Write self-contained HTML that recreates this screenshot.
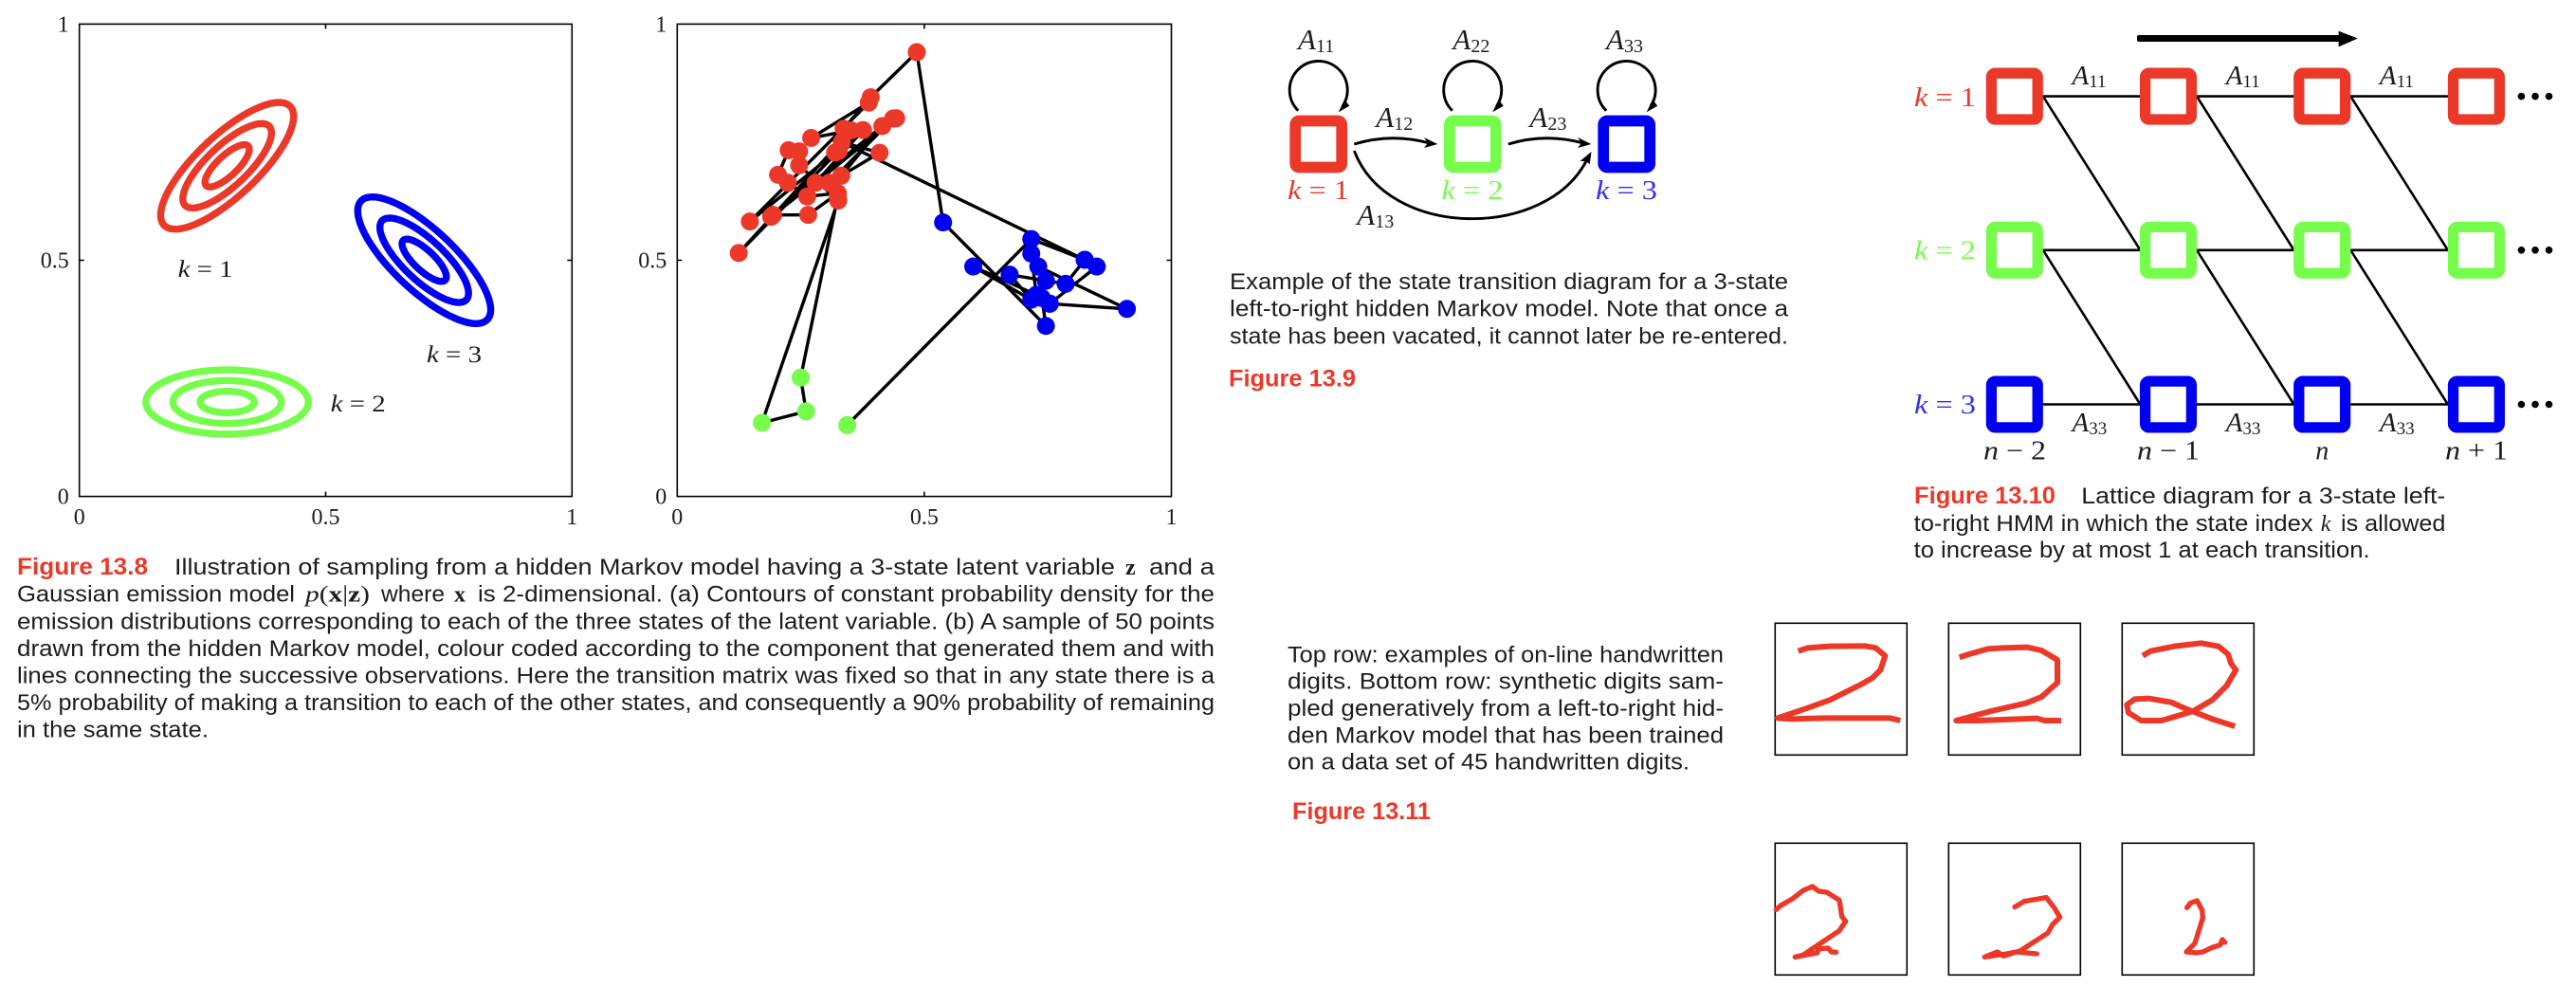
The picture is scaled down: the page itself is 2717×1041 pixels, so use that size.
<!DOCTYPE html>
<html lang="en">
<head>
<meta charset="utf-8">
<title>Hidden Markov model figures 13.8 to 13.11</title>
<style>
html,body{margin:0;padding:0;background:#fff;}
svg{display:block;}
text{font-family:"Liberation Sans",sans-serif;fill:#1c1c1c;font-size:24px;}
.m,.m tspan{font-family:"Liberation Serif",serif;}
.fig{font-weight:bold;fill:#ec3829;font-size:25px;}
.i{font-style:italic;}
</style>
</head>
<body>
<svg id="page" xmlns="http://www.w3.org/2000/svg" width="2717" height="1041" viewBox="0 0 2717 1041">
<rect width="2717" height="1041" fill="#fff"/>
<g id="plots"></g>

<!-- Figure 13.8 caption -->
<g>
<text class="fig" x="18" y="606" textLength="138" lengthAdjust="spacingAndGlyphs">Figure 13.8</text>
<text x="184" y="606" textLength="992" lengthAdjust="spacingAndGlyphs">Illustration of sampling from a hidden Markov model having a 3-state latent variable</text>
<text class="m" x="1187" y="606" font-weight="bold">z</text>
<text x="1212" y="606" textLength="69" lengthAdjust="spacingAndGlyphs">and a</text>
<text x="18" y="634.7" textLength="293" lengthAdjust="spacingAndGlyphs">Gaussian emission model</text>
<text class="m" x="322" y="634.7" textLength="68" lengthAdjust="spacingAndGlyphs"><tspan font-style="italic">p</tspan>(<tspan font-weight="bold">x</tspan>|<tspan font-weight="bold">z</tspan>)</text>
<text x="402" y="634.7" textLength="67" lengthAdjust="spacingAndGlyphs">where</text>
<text class="m" x="479" y="634.7" font-weight="bold">x</text>
<text x="504" y="634.7" textLength="777" lengthAdjust="spacingAndGlyphs">is 2-dimensional. (a) Contours of constant probability density for the</text>
<text x="18" y="663.3" textLength="1263" lengthAdjust="spacingAndGlyphs">emission distributions corresponding to each of the three states of the latent variable. (b) A sample of 50 points</text>
<text x="18" y="691.8" textLength="1263" lengthAdjust="spacingAndGlyphs">drawn from the hidden Markov model, colour coded according to the component that generated them and with</text>
<text x="18" y="720.3" textLength="1263" lengthAdjust="spacingAndGlyphs">lines connecting the successive observations. Here the transition matrix was fixed so that in any state there is a</text>
<text x="18" y="749" textLength="1263" lengthAdjust="spacingAndGlyphs">5% probability of making a transition to each of the other states, and consequently a 90% probability of remaining</text>
<text x="18" y="777.5" textLength="202" lengthAdjust="spacingAndGlyphs">in the same state.</text>
</g>

<!-- Figure 13.9 diagram -->
<g>
<g fill="none" stroke="#000" stroke-width="2.9">
<path d="M1369.3 116.7 A30.5 30.5 0 1 1 1416 112"/>
<path d="M1531.8 116.7 A30.5 30.5 0 1 1 1578.5 112"/>
<path d="M1694.2 116.7 A30.5 30.5 0 1 1 1740.9 112"/>
<path d="M1428.3 152 Q1468 140 1508 151"/>
<path d="M1590.9 152 Q1630 140 1670 151"/>
<path d="M1428.3 159 C1464 253 1632 253 1674 168"/>
</g>
<g fill="#000">
<polygon points="1411.7,118.3 1418.3,105 1423.3,111.7"/>
<polygon points="1574.2,118.3 1580.8,105 1585.8,111.7"/>
<polygon points="1736.6,118.3 1743.2,105 1748.2,111.7"/>
<polygon points="1516.3,152 1502,145 1506,151 1502,156"/>
<polygon points="1678.5,152 1664,145 1668,151 1664,156"/>
<polygon points="1678.5,160 1666.5,170 1672,170 1676.8,173"/>
</g>
<g fill="#fff" stroke-width="11.7" stroke-linejoin="round">
<rect x="1366.2" y="127.5" width="49" height="49" rx="4" stroke="#ec3829"/>
<rect x="1528.8" y="127.5" width="49" height="49" rx="4" stroke="#76fd4c"/>
<rect x="1691.2" y="127.5" width="49" height="49" rx="4" stroke="#0000f0"/>
</g>
<text class="m" x="1358" y="210" font-size="28" textLength="65" lengthAdjust="spacingAndGlyphs" style="fill:#ec3829;font-size:28px"><tspan font-style="italic">k</tspan> = 1</text>
<text class="m" x="1520.5" y="210" textLength="65" lengthAdjust="spacingAndGlyphs" style="fill:#76fd4c;font-size:28px"><tspan font-style="italic">k</tspan> = 2</text>
<text class="m" x="1683" y="210" textLength="65" lengthAdjust="spacingAndGlyphs" style="fill:#3030f0;font-size:28px"><tspan font-style="italic">k</tspan> = 3</text>
<text class="m" x="1369" y="52" style="font-size:31px"><tspan font-style="italic">A</tspan><tspan dy="3" style="font-size:20px">11</tspan></text>
<text class="m" x="1532.4" y="52" style="font-size:31px"><tspan font-style="italic">A</tspan><tspan dy="3" style="font-size:20px">22</tspan></text>
<text class="m" x="1694" y="52" style="font-size:31px"><tspan font-style="italic">A</tspan><tspan dy="3" style="font-size:20px">33</tspan></text>
<text class="m" x="1451.3" y="134" style="font-size:31px"><tspan font-style="italic">A</tspan><tspan dy="3" style="font-size:20px">12</tspan></text>
<text class="m" x="1613.4" y="134" style="font-size:31px"><tspan font-style="italic">A</tspan><tspan dy="3" style="font-size:20px">23</tspan></text>
<text class="m" x="1431.3" y="237" style="font-size:31px"><tspan font-style="italic">A</tspan><tspan dy="3" style="font-size:20px">13</tspan></text>
</g>
<g>
<text x="1297" y="305" textLength="589" lengthAdjust="spacingAndGlyphs">Example of the state transition diagram for a 3-state</text>
<text x="1297" y="333.5" textLength="589" lengthAdjust="spacingAndGlyphs">left-to-right hidden Markov model.  Note that once a</text>
<text x="1297" y="362.3" textLength="589" lengthAdjust="spacingAndGlyphs">state has been vacated, it cannot later be re-entered.</text>
<text class="fig" x="1296" y="407.3" textLength="134" lengthAdjust="spacingAndGlyphs">Figure 13.9</text>
</g>

<!-- Figure 13.10 lattice -->
<g id="lattice">
<g stroke="#000" stroke-width="2.6" fill="none">
<path d="M2124.8 101.6H2611.9M2124.8 263.8H2611.9M2124.8 426.5H2611.9"/>
<path d="M2154.9 101.6L2257.4 263.8M2317 101.6L2419.5 263.8M2479.3 101.6L2581.8 263.8M2154.9 263.8L2257.4 426.5M2317 263.8L2419.5 426.5M2479.3 263.8L2581.8 426.5"/>
</g>
<g fill="#fff" stroke-width="11.3" stroke-linejoin="round">
<g stroke="#ec3829">
<rect x="2100.4" y="77.2" width="48.8" height="48.8" rx="4"/>
<rect x="2262.6" y="77.2" width="48.8" height="48.8" rx="4"/>
<rect x="2424.8" y="77.2" width="48.8" height="48.8" rx="4"/>
<rect x="2587.5" y="77.2" width="48.8" height="48.8" rx="4"/>
</g>
<g stroke="#76fd4c">
<rect x="2100.4" y="239.4" width="48.8" height="48.8" rx="4"/>
<rect x="2262.6" y="239.4" width="48.8" height="48.8" rx="4"/>
<rect x="2424.8" y="239.4" width="48.8" height="48.8" rx="4"/>
<rect x="2587.5" y="239.4" width="48.8" height="48.8" rx="4"/>
</g>
<g stroke="#0000f0">
<rect x="2100.4" y="402.1" width="48.8" height="48.8" rx="4"/>
<rect x="2262.6" y="402.1" width="48.8" height="48.8" rx="4"/>
<rect x="2424.8" y="402.1" width="48.8" height="48.8" rx="4"/>
<rect x="2587.5" y="402.1" width="48.8" height="48.8" rx="4"/>
</g>
</g>
<g>
<rect x="2254" y="37" width="214" height="7" rx="2" fill="#000"/>
<polygon points="2486.8,40.5 2466.6,32.7 2466.6,49.4" fill="#000"/>
</g>
<g fill="#000">
<circle cx="2659.4" cy="101.6" r="3.8"/><circle cx="2674" cy="101.6" r="3.8"/><circle cx="2688.5" cy="101.6" r="3.8"/>
<circle cx="2659.4" cy="263.8" r="3.8"/><circle cx="2674" cy="263.8" r="3.8"/><circle cx="2688.5" cy="263.8" r="3.8"/>
<circle cx="2659.4" cy="426.5" r="3.8"/><circle cx="2674" cy="426.5" r="3.8"/><circle cx="2688.5" cy="426.5" r="3.8"/>
</g>
<text class="m" x="2019" y="112" textLength="65" lengthAdjust="spacingAndGlyphs" style="fill:#ec3829;font-size:28px"><tspan font-style="italic">k</tspan> = 1</text>
<text class="m" x="2019" y="273.5" textLength="65" lengthAdjust="spacingAndGlyphs" style="fill:#76fd4c;font-size:28px"><tspan font-style="italic">k</tspan> = 2</text>
<text class="m" x="2019" y="435.8" textLength="65" lengthAdjust="spacingAndGlyphs" style="fill:#3030f0;font-size:28px"><tspan font-style="italic">k</tspan> = 3</text>
<text class="m" x="2185.5" y="89" style="font-size:29px"><tspan font-style="italic">A</tspan><tspan dy="3" style="font-size:19px">11</tspan></text>
<text class="m" x="2347.7" y="89" style="font-size:29px"><tspan font-style="italic">A</tspan><tspan dy="3" style="font-size:19px">11</tspan></text>
<text class="m" x="2509.9" y="89" style="font-size:29px"><tspan font-style="italic">A</tspan><tspan dy="3" style="font-size:19px">11</tspan></text>
<text class="m" x="2185.5" y="455" style="font-size:29px"><tspan font-style="italic">A</tspan><tspan dy="3" style="font-size:19px">33</tspan></text>
<text class="m" x="2347.7" y="455" style="font-size:29px"><tspan font-style="italic">A</tspan><tspan dy="3" style="font-size:19px">33</tspan></text>
<text class="m" x="2509.9" y="455" style="font-size:29px"><tspan font-style="italic">A</tspan><tspan dy="3" style="font-size:19px">33</tspan></text>
<text class="m" x="2092" y="484.4" textLength="66" lengthAdjust="spacingAndGlyphs" style="font-size:28px"><tspan font-style="italic">n</tspan> − 2</text>
<text class="m" x="2254" y="484.4" textLength="66" lengthAdjust="spacingAndGlyphs" style="font-size:28px"><tspan font-style="italic">n</tspan> − 1</text>
<text class="m" x="2449.2" y="484.4" text-anchor="middle" font-style="italic" style="font-size:28px">n</text>
<text class="m" x="2579" y="484.4" textLength="66" lengthAdjust="spacingAndGlyphs" style="font-size:28px"><tspan font-style="italic">n</tspan> + 1</text>
</g>
<g>
<text class="fig" x="2019" y="531" textLength="149" lengthAdjust="spacingAndGlyphs">Figure 13.10</text>
<text x="2195.3" y="531" textLength="384" lengthAdjust="spacingAndGlyphs">Lattice diagram for a 3-state left-</text>
<text x="2018.6" y="560" textLength="421" lengthAdjust="spacingAndGlyphs">to-right HMM in which the state index</text>
<text class="m" x="2447.8" y="560" font-style="italic">k</text>
<text x="2469" y="560" textLength="110.4" lengthAdjust="spacingAndGlyphs">is allowed</text>
<text x="2018.6" y="588" textLength="481" lengthAdjust="spacingAndGlyphs">to increase by at most 1 at each transition.</text>
</g>

<!-- Figure 13.11 -->
<g>
<text x="1358" y="698.3" textLength="460" lengthAdjust="spacingAndGlyphs">Top row: examples of on-line handwritten</text>
<text x="1358" y="726.7" textLength="460" lengthAdjust="spacingAndGlyphs">digits.  Bottom row: synthetic digits sam-</text>
<text x="1358" y="755" textLength="460" lengthAdjust="spacingAndGlyphs">pled generatively from a left-to-right hid-</text>
<text x="1358" y="783.3" textLength="460" lengthAdjust="spacingAndGlyphs">den Markov model that has been trained</text>
<text x="1358" y="811.7" textLength="424" lengthAdjust="spacingAndGlyphs">on a data set of 45 handwritten digits.</text>
<text class="fig" x="1363" y="864" textLength="146" lengthAdjust="spacingAndGlyphs">Figure 13.11</text>
</g>
<g>
<g fill="#fff" stroke="#000" stroke-width="1.6">
<rect x="1872.3" y="657.3" width="139" height="139"/>
<rect x="2055.3" y="657.3" width="139" height="139"/>
<rect x="2238.3" y="657.3" width="139" height="139"/>
<rect x="1872.3" y="889.3" width="139" height="139"/>
<rect x="2055.3" y="889.3" width="139" height="139"/>
<rect x="2238.3" y="889.3" width="139" height="139"/>
</g>
<g transform="translate(1860,640) scale(0.33333)" fill="none" stroke="#ec3829" stroke-width="18" stroke-linejoin="round">
<polyline points="110,140 140,130 210,125 320,124 355,130 385,155 370,200 345,225 310,245 270,265 210,295 140,320 90,337 45,352 90,355 200,352 400,352 433,360"/>
<polyline points="620,160 650,150 710,133 760,130 835,128 880,138 930,168 930,240 880,285 830,305 720,330 610,360 680,360 865,353 890,360 942,360"/>
<polyline points="1200,155 1225,140 1300,125 1385,115 1440,125 1470,150 1480,180 1495,200 1465,250 1420,295 1360,330 1260,360 1195,360 1155,335 1150,310 1175,292 1220,290 1290,302 1330,320 1420,355 1492,378"/>
</g>
<g transform="translate(1860,880) scale(0.33333)" fill="none" stroke="#ec3829" stroke-width="16" stroke-linejoin="round" stroke-linecap="round">
<polyline points="40,238 55,225 90,205 125,178 155,165 175,180 200,183 240,208 248,260 260,275 240,305 180,345 125,382 100,388 170,375 175,362 205,360 215,372 230,373"/>
<polyline points="795,230 825,212 895,200 920,232 938,262 915,285 900,312 810,370 770,378 700,388 740,372 760,385 800,372 865,378"/>
<polyline points="1340,232 1350,218 1372,210 1388,240 1390,265 1365,345 1338,372 1370,375 1390,372 1420,358 1445,350 1452,333 1460,342"/>
</g>
</g>
</svg>

<script>
// Axis values shared by both plots
const tickValues = [0, 0.5, 1];
const tickLabels = ['0', '0.5', '1'];

// Panel (a): Gaussian contour parameters for k = 1, 2, 3
const contourStates = ['k1', 'k2', 'k3'];
const contourMeanX = [0.3, 0.3, 0.7];
const contourMeanY = [0.7, 0.2, 0.5];
const contourSigmaX = [0.045, 0.055, 0.045];
const contourSigmaY = [0.0447, 0.0227, 0.0447];
const contourRho = [0.78, 0, -0.78];
const contourLevels = [1, 2, 3];
const stateLabels = ['k = 1', 'k = 2', 'k = 3'];
const stateLabelX = [0.2, 0.51, 0.705];
const stateLabelY = [0.465, 0.18, 0.284];

// Panel (b): sampled sequence, state index 0 red, 1 green, 2 blue
const pointsX = [0.344,0.7165,0.8246,0.333,0.4096,0.332,0.415,0.194,0.265,0.325,0.263,0.224,0.204,0.2255,0.2467,0.2467,0.3258,0.1715,0.2608,0.2498,0.325,0.3078,0.437,0.190,0.443,0.280,0.376,0.147,0.3876,0.271,0.352,0.1245,0.327,0.3195,0.3367,0.3915,0.4847,0.538,0.746,0.738,0.754,0.910,0.7306,0.7165,0.7267,0.599,0.7165,0.6727,0.746,0.786,0.8246,0.849,0.754];
const pointsY = [0.151,0.545,0.501,0.750,0.7276,0.679,0.784,0.596,0.596,0.642,0.635,0.664,0.681,0.733,0.7305,0.701,0.6265,0.156,0.180,0.2516,0.635,0.664,0.800,0.592,0.8007,0.664,0.7756,0.582,0.8337,0.759,0.775,0.5154,0.732,0.728,0.7785,0.845,0.9405,0.580,0.361,0.420,0.408,0.397,0.4867,0.514,0.427,0.4867,0.4165,0.4695,0.4566,0.450,0.501,0.4867,0.408];
const pointStates = [1,2,2,0,0,0,0,0,0,0,0,0,0,0,0,0,0,1,1,1,0,0,0,0,0,0,0,0,0,0,0,0,0,0,0,0,0,2,2,2,2,2,2,2,2,2,2,2,2,2,2,2,2];

const stateColors = ['#ec3829', '#76fd4c', '#0000f0'];
const NS = 'http://www.w3.org/2000/svg';
const plots = document.getElementById('plots');

function xAxis(panel, v) { return panel.left + (panel.right - panel.left) * v; }
function yAxis(panel, v) { return panel.bottom - (panel.bottom - panel.top) * v; }
function shape(tag, parent) { const el = document.createElementNS(NS, tag); parent.appendChild(el); return el; }

function drawAxes(panel, name) {
  const g = shape('g', plots);
  
  
  const frame = shape('rect', g);
  frame.setAttribute('x', panel.left);
  frame.setAttribute('y', panel.top);
  frame.setAttribute('width', panel.right - panel.left);
  frame.setAttribute('height', panel.bottom - panel.top);
  frame.setAttribute('fill', 'none');
  frame.setAttribute('stroke', '#000');
  frame.setAttribute('stroke-width', '1.6');
  
  
  tickValues.forEach(function (v, i) {
    const tx = xAxis(panel, v), ty = yAxis(panel, v);
    if (v > 0 && v < 1) {
      const t = shape('path', g);
      t.setAttribute('d', 'M' + tx + ' ' + panel.top + 'v5M' + tx + ' ' + panel.bottom + 'v-5M' + panel.left + ' ' + ty + 'h5M' + panel.right + ' ' + ty + 'h-5');
      t.setAttribute('stroke', '#000');
      t.setAttribute('stroke-width', '1.6');
      t.setAttribute('fill', 'none');
      
      
    }
    const xl = shape('text', g);
    xl.setAttribute('class', 'm');
    xl.setAttribute('x', tx);
    xl.setAttribute('y', 553);
    xl.setAttribute('text-anchor', 'middle');
    xl.textContent = tickLabels[i];
    
    
    const yl = shape('text', g);
    yl.setAttribute('class', 'm');
    yl.setAttribute('x', panel.left - 11);
    yl.setAttribute('y', ty + 8);
    yl.setAttribute('text-anchor', 'end');
    yl.textContent = tickLabels[i];
    
    
  });
}

const panelA = { left: 83.7, right: 603.3, top: 25.4, bottom: 523.6 };
const panelB = { left: 714.3, right: 1235.5, top: 25.4, bottom: 523.6 };
drawAxes(panelA, 'contour-plot');
drawAxes(panelB, 'sample-plot');

// Panel (a) contours
contourStates.forEach(function (state, s) {
  contourLevels.forEach(function (level) {
    let d = '';
    for (let a = 0; a < 90; a++) {
      const t = a / 90 * 2 * Math.PI;
      const dx = contourSigmaX[s] * level * Math.cos(t);
      const dy = contourSigmaY[s] * level * (contourRho[s] * Math.cos(t) + Math.sqrt(1 - contourRho[s] * contourRho[s]) * Math.sin(t));
      d += (a ? 'L' : 'M') + xAxis(panelA, contourMeanX[s] + dx).toFixed(2) + ' ' + yAxis(panelA, contourMeanY[s] + dy).toFixed(2);
    }
    const c = shape('path', plots);
    c.setAttribute('d', d + 'Z');
    c.setAttribute('fill', 'none');
    c.setAttribute('stroke', stateColors[s]);
    c.setAttribute('stroke-width', '7.4');
    
    
  });
  const label = shape('text', plots);
  label.setAttribute('class', 'm');
  label.setAttribute('x', xAxis(panelA, stateLabelX[s]));
  label.setAttribute('y', yAxis(panelA, stateLabelY[s]));
  label.setAttribute('textLength', '58');
  label.setAttribute('lengthAdjust', 'spacingAndGlyphs');
  label.style.fontSize = '25px';
  const parts = stateLabels[s].split(' ');
  const k = shape('tspan', label);
  k.setAttribute('font-style', 'italic');
  k.textContent = parts[0];
  label.appendChild(document.createTextNode(' ' + parts[1] + ' ' + parts[2]));
  
  
});

// Panel (b) trajectory and points
const trajectory = shape('polyline', plots);
trajectory.setAttribute('points', pointsX.map(function (x, i) {
  return xAxis(panelB, x).toFixed(2) + ',' + yAxis(panelB, pointsY[i]).toFixed(2);
}).join(' '));
trajectory.setAttribute('fill', 'none');
trajectory.setAttribute('stroke', '#000');
trajectory.setAttribute('stroke-width', '3.4');
trajectory.setAttribute('stroke-linejoin', 'round');


pointsX.forEach(function (x, i) {
  const dot = shape('circle', plots);
  dot.setAttribute('cx', xAxis(panelB, x).toFixed(2));
  dot.setAttribute('cy', yAxis(panelB, pointsY[i]).toFixed(2));
  dot.setAttribute('r', '9.5');
  dot.setAttribute('fill', stateColors[pointStates[i]]);
  
  
});
</script>
</body>
</html>
